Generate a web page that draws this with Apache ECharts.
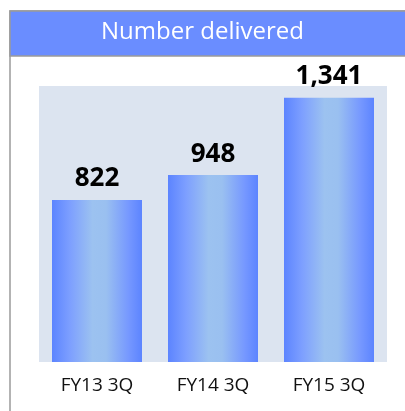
<!DOCTYPE html>
<html>
<head>
<meta charset="utf-8">
<script src="https://cdn.jsdelivr.net/npm/echarts@6/dist/echarts.min.js"></script>
<style>
html,body{margin:0;padding:0;background:#fff;}
#chart{width:405px;height:411px;}
</style>
</head>
<body>
<div id="chart"></div>
<script>
var fontFamily='"Open Sans","Noto Sans",sans-serif';
var categories=['FY13 3Q','FY14 3Q','FY15 3Q'];
var delivered=[822,948,1341];
var titleText='Number delivered';

var dom=document.getElementById('chart');
var chart=echarts.init(dom,null,{renderer:'canvas'});
var barColor=new echarts.graphic.LinearGradient(0,0,1,0,[
    {offset:0,color:'#5C84FF'},
    {offset:0.2,color:'#7D9FFF'},
    {offset:0.45,color:'#9CC2F0'},
    {offset:0.6,color:'#9AC0F0'},
    {offset:0.85,color:'#7698FF'},
    {offset:1,color:'#5C84FF'}
]);
var option={
    animation:false,
    graphic:[
        {type:'rect',shape:{x:10,y:11,width:420,height:420},style:{fill:'#fff',stroke:'#9a9a9a',lineWidth:1.5},z:-10},
        {type:'rect',shape:{x:10,y:11,width:420,height:45},style:{fill:'#6A8DFF',stroke:'#9a9a9a',lineWidth:1.5},z:-9},
        {type:'text',left:'center',top:20,style:{text:titleText,fill:'#fff',font:'24px '+fontFamily},z:10}
    ],
    grid:{left:39,right:18,top:86,bottom:49,show:true,backgroundColor:'#DCE4F0',borderWidth:0},
    xAxis:{
        type:'category',
        data:categories,
        axisLine:{show:false},
        axisTick:{show:false},
        axisLabel:{margin:14,color:'#111',fontSize:19,fontFamily:fontFamily}
    },
    yAxis:{
        type:'value',
        min:0,max:1400,
        show:false,
        splitLine:{show:false}
    },
    series:[{
        type:'bar',
        data:delivered,
        barWidth:90,
        itemStyle:{color:barColor},
        label:{
            show:true,position:'top',distance:8,
            color:'#000',fontSize:26,fontWeight:'bold',fontFamily:fontFamily,
            formatter:function(p){return p.value.toLocaleString('en-US');}
        }
    }]
};
chart.setOption(option);
</script>
</body>
</html>
